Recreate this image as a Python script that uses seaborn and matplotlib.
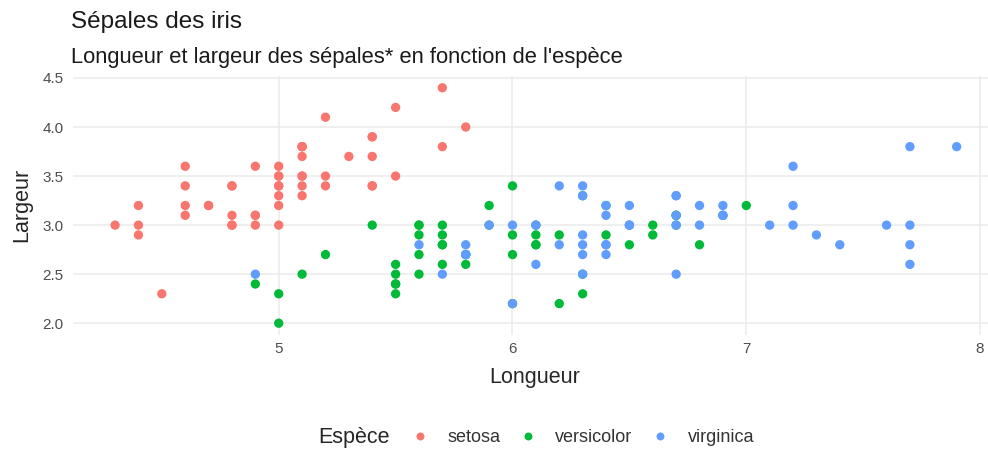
import numpy as np
import pandas as pd
import seaborn as sns
import matplotlib.pyplot as plt

# iris sepal measurements
setosa_len = [5.1, 4.9, 4.7, 4.6, 5.0, 5.4, 4.6, 5.0, 4.4, 4.9, 5.4, 4.8, 4.8, 4.3, 5.8, 5.7, 5.4,
              5.1, 5.7, 5.1, 5.4, 5.1, 4.6, 5.1, 4.8, 5.0, 5.0, 5.2, 5.2, 4.7, 4.8, 5.4, 5.2, 5.5,
              4.9, 5.0, 5.5, 4.9, 4.4, 5.1, 5.0, 4.5, 4.4, 5.0, 5.1, 4.8, 5.1, 4.6, 5.3, 5.0]
setosa_wid = [3.5, 3.0, 3.2, 3.1, 3.6, 3.9, 3.4, 3.4, 2.9, 3.1, 3.7, 3.4, 3.0, 3.0, 4.0, 4.4, 3.9,
              3.5, 3.8, 3.8, 3.4, 3.7, 3.6, 3.3, 3.4, 3.0, 3.4, 3.5, 3.4, 3.2, 3.1, 3.4, 4.1, 4.2,
              3.1, 3.2, 3.5, 3.6, 3.0, 3.4, 3.5, 2.3, 3.2, 3.5, 3.8, 3.0, 3.8, 3.2, 3.7, 3.3]
versicolor_len = [7.0, 6.4, 6.9, 5.5, 6.5, 5.7, 6.3, 4.9, 6.6, 5.2, 5.0, 5.9, 6.0, 6.1, 5.6, 6.7, 5.6,
                  5.8, 6.2, 5.6, 5.9, 6.1, 6.3, 6.1, 6.4, 6.6, 6.8, 6.7, 6.0, 5.7, 5.5, 5.5, 5.8, 6.0,
                  5.4, 6.0, 6.7, 6.3, 5.6, 5.5, 5.5, 6.1, 5.8, 5.0, 5.6, 5.7, 5.7, 6.2, 5.1, 5.7]
versicolor_wid = [3.2, 3.2, 3.1, 2.3, 2.8, 2.8, 3.3, 2.4, 2.9, 2.7, 2.0, 3.0, 2.2, 2.9, 2.9, 3.1, 3.0,
                  2.7, 2.2, 2.5, 3.2, 2.8, 2.5, 2.8, 2.9, 3.0, 2.8, 3.0, 2.9, 2.6, 2.4, 2.4, 2.7, 2.7,
                  3.0, 3.4, 3.1, 2.3, 3.0, 2.5, 2.6, 3.0, 2.6, 2.3, 2.7, 3.0, 2.9, 2.9, 2.5, 2.8]
virginica_len = [6.3, 5.8, 7.1, 6.3, 6.5, 7.6, 4.9, 7.3, 6.7, 7.2, 6.5, 6.4, 6.8, 5.7, 5.8, 6.4, 6.5,
                 7.7, 7.7, 6.0, 6.9, 5.6, 7.7, 6.3, 6.7, 7.2, 6.2, 6.1, 6.4, 7.2, 7.4, 7.9, 6.4, 6.3,
                 6.1, 7.7, 6.3, 6.4, 6.0, 6.9, 6.7, 6.9, 5.8, 6.8, 6.7, 6.7, 6.3, 6.5, 6.2, 5.9]
virginica_wid = [3.3, 2.7, 3.0, 2.9, 3.0, 3.0, 2.5, 2.9, 2.5, 3.6, 3.2, 2.7, 3.0, 2.5, 2.8, 3.2, 3.0,
                 3.8, 2.6, 2.2, 3.2, 2.8, 2.8, 2.7, 3.3, 3.2, 2.8, 3.0, 2.8, 3.0, 2.8, 3.8, 2.8, 2.8,
                 2.6, 3.0, 3.4, 3.1, 3.0, 3.1, 3.1, 3.1, 2.7, 3.2, 3.3, 3.0, 2.5, 3.0, 3.4, 3.0]

species = ['setosa', 'versicolor', 'virginica']
colors = ['#F8766D', '#00BA38', '#619CFF']
x_ticks = [5, 6, 7, 8]
y_ticks = [2.0, 2.5, 3.0, 3.5, 4.0, 4.5]

df = pd.DataFrame({
    'Longueur': setosa_len + versicolor_len + virginica_len,
    'Largeur': setosa_wid + versicolor_wid + virginica_wid,
    'Espece': ['setosa'] * 50 + ['versicolor'] * 50 + ['virginica'] * 50,
})

sns.set_style('white')
plt.rcParams['font.family'] = ['Liberation Sans', 'DejaVu Sans']

fig = plt.figure(figsize=(9.88, 4.49), dpi=100)
W, H = 988, 449
ax = fig.add_axes([73 / W, 1 - 335 / H, (988 - 73) / W, (335 - 76) / H])

sns.scatterplot(data=df, x='Longueur', y='Largeur', hue='Espece', hue_order=species,
                palette=colors, s=45, linewidth=0, ax=ax, legend=True, zorder=3)

ax.set_xlim(4.12, 8.034)
ax.set_ylim(1.88, 4.52)
ax.set_xticks(x_ticks)
ax.set_xticklabels([str(t) for t in x_ticks])
ax.set_yticks(y_ticks)
ax.set_yticklabels([f'{t:.1f}' for t in y_ticks])
ax.grid(True, color='#ebebeb', linewidth=1.1, zorder=0)
ax.set_axisbelow(True)
for sp in ax.spines.values():
    sp.set_visible(False)
ax.tick_params(length=0, labelsize=11, labelcolor='#4d4d4d')
ax.tick_params(axis='y', pad=7)
ax.tick_params(axis='x', pad=5)
ax.set_xlabel('')
ax.set_ylabel('')

fig.text(535 / W, 1 - 383 / H, 'Longueur', fontsize=15.5, va='baseline', ha='center')
fig.text(22 / W, 1 - 205 / H, 'Largeur', fontsize=15.5, va='center', ha='center', rotation=90)

fig.text(71 / W, 1 - 28 / H, 'Sépales des iris', fontsize=17.5, va='baseline', ha='left',
         color='#1a1a1a')
fig.text(71 / W, 1 - 63 / H, "Longueur et largeur des sépales* en fonction de l'espèce",
         fontsize=15.8, va='baseline', ha='left', color='#1a1a1a')

# legend along the bottom, title on the left
sns.move_legend(ax, 'center left', bbox_to_anchor=(402 / W, 1 - 438 / H),
                bbox_transform=fig.transFigure, ncol=3, title=None, frameon=False,
                fontsize=13, borderpad=0, handlelength=1.0, handletextpad=1.0,
                columnspacing=1.05, markerscale=0.85)
for t in ax.get_legend().get_texts():
    t.set_color('#333333')
fig.text(318 / W, 1 - 438 / H, 'Espèce', fontsize=15.5, va='center', ha='left')

fig.savefig('out.png', dpi=100)
